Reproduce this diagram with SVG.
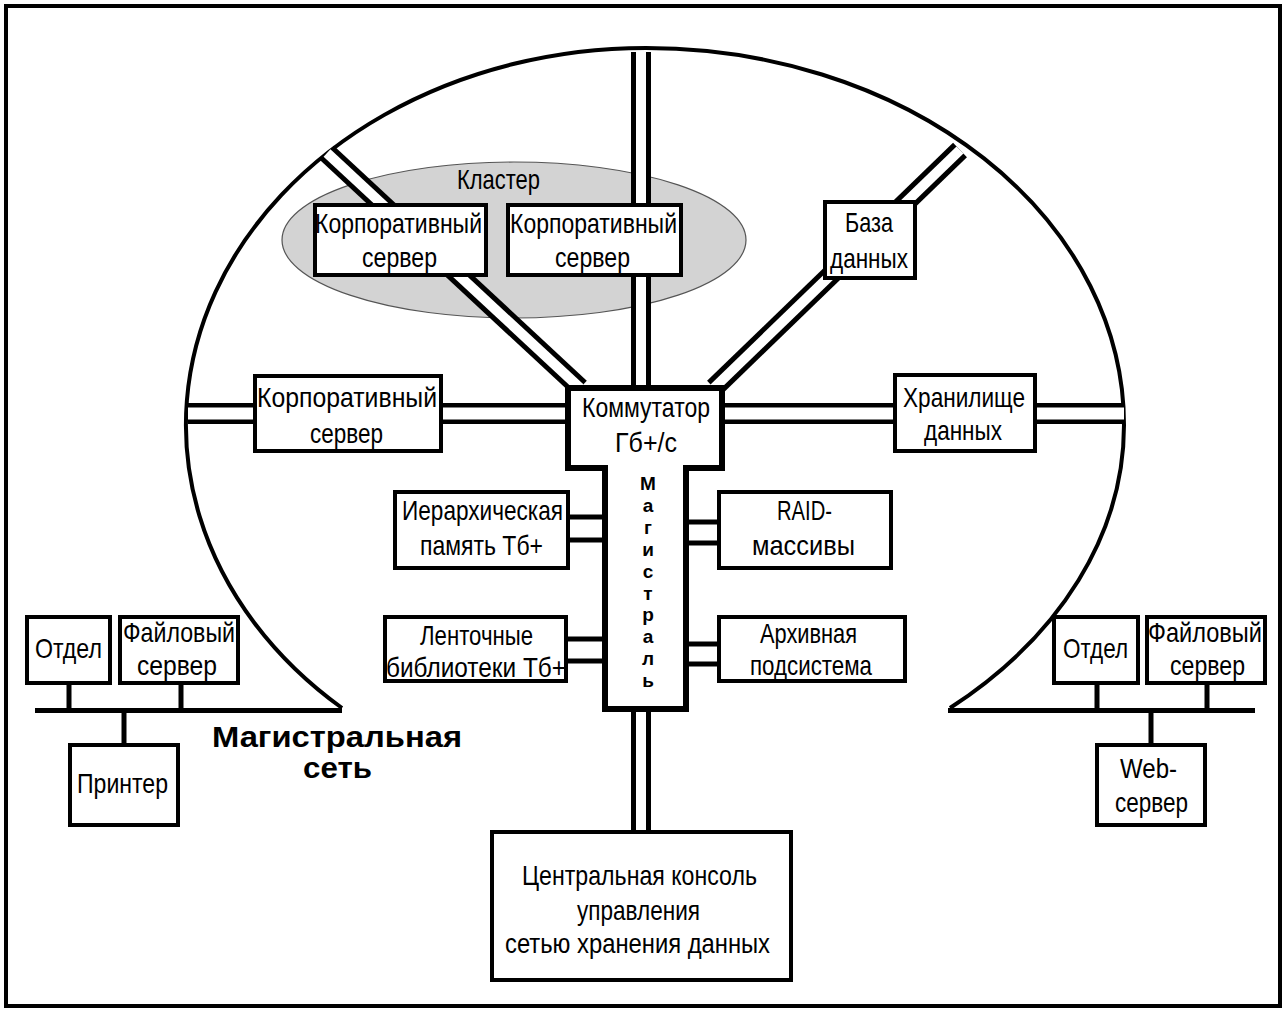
<svg xmlns="http://www.w3.org/2000/svg" width="1286" height="1012" viewBox="0 0 1286 1012">
  <style>
    .frame { fill: #fff; stroke: #000; stroke-width: 4; }
    .arch { fill: none; stroke: #000; stroke-width: 4; }
    .box { fill: #fff; stroke: #000; stroke-width: 4; }
    .switch { fill: #fff; stroke: #000; stroke-width: 6; stroke-linejoin: miter; }
    .cluster { fill: #d3d3d3; stroke: #555; stroke-width: 1.2; }
    .dbl-o { stroke: #000; stroke-width: 20; fill: none; }
    .dbl-i { stroke: #fff; stroke-width: 10; fill: none; }
    .hdbl-o { stroke: #000; stroke-width: 21; fill: none; }
    .hdbl-i { stroke: #fff; stroke-width: 12; fill: none; }
    .stub { stroke: #000; stroke-width: 5; fill: none; }
    .bus { stroke: #000; stroke-width: 5; fill: none; }
    .t { font-family: "Liberation Sans", Arial, sans-serif; font-size: 28px; text-anchor: middle; fill: #000; }
    .b { font-family: "Liberation Sans", Arial, sans-serif; font-weight: bold; text-anchor: middle; fill: #000; }
  </style>

  <!-- outer frame -->
  <rect class="frame" x="6" y="6" width="1274" height="1000"/>

  <!-- backbone network boundary: left half, then right half in two arcs -->
  <path class="arch" d="M342,708 A460,377 0 0 1 646,48 A478,377 0 0 1 1124,425 A514,377 0 0 1 950,708"/>

  <!-- cluster area -->
  <g id="cluster">
    <ellipse class="cluster" cx="514" cy="240" rx="232" ry="78"/>
    <text class="t" x="498.5" y="189" textLength="83" lengthAdjust="spacingAndGlyphs">Кластер</text>
  </g>

  <!-- connectors -->
  <g id="connectors">
    <!-- double links to the switch -->
    <path class="dbl-o" d="M641,52 V386"/>
    <path class="dbl-i" d="M641,52 V386"/>
    <path class="dbl-o" d="M327,153 L580,388"/>
    <path class="dbl-i" d="M327,153 L580,388"/>
    <path class="dbl-o" d="M960,150 L714,388"/>
    <path class="dbl-i" d="M960,150 L714,388"/>
    <path class="hdbl-o" d="M188,413.5 H566"/>
    <path class="hdbl-i" d="M188,413.5 H566"/>
    <path class="hdbl-o" d="M724,413.5 H1124"/>
    <path class="hdbl-i" d="M724,413.5 H1124"/>
    <path class="dbl-o" d="M641,708 V831"/>
    <path class="dbl-i" d="M641,708 V831"/>
    <!-- backbone stubs -->
    <path class="stub" d="M568,517 H603 M568,540 H603"/>
    <path class="stub" d="M566,639 H603 M566,661 H603"/>
    <path class="stub" d="M686,522 H719 M686,543 H719"/>
    <path class="stub" d="M686,644 H719 M686,664 H719"/>
    <!-- left LAN -->
    <path class="bus" d="M35,710.5 H342"/>
    <path class="stub" d="M69,684 V710 M181,684 V710 M124,710 V745"/>
    <!-- right LAN -->
    <path class="bus" d="M948,710.5 H1255"/>
    <path class="stub" d="M1097,684 V710 M1207,684 V710 M1151,710 V745"/>
  </g>

  <!-- switch with backbone stem -->
  <g id="switch">
    <path class="switch" d="M568,388 H722 V468 H686 V709 H605 V468 H568 Z"/>
    <text class="t" x="646" y="417" textLength="128" lengthAdjust="spacingAndGlyphs">Коммутатор</text>
    <text class="t" x="646" y="452" textLength="62" lengthAdjust="spacingAndGlyphs">Гб+/с</text>
    <g class="b" font-size="19">
      <text x="648" y="490">М</text>
      <text x="648" y="512">а</text>
      <text x="648" y="534">г</text>
      <text x="648" y="556">и</text>
      <text x="648" y="578">с</text>
      <text x="648" y="600">т</text>
      <text x="648" y="621">р</text>
      <text x="648" y="643">а</text>
      <text x="648" y="665">л</text>
      <text x="648" y="687">ь</text>
    </g>
  </g>

  <g id="corp-server-1">
    <rect class="box" x="315" y="205" width="171" height="70"/>
    <text class="t" x="398.5" y="233" textLength="167" lengthAdjust="spacingAndGlyphs">Корпоративный</text>
    <text class="t" x="399.5" y="267" textLength="75" lengthAdjust="spacingAndGlyphs">сервер</text>
  </g>
  <g id="corp-server-2">
    <rect class="box" x="508" y="205" width="173" height="70"/>
    <text class="t" x="593.5" y="233" textLength="167" lengthAdjust="spacingAndGlyphs">Корпоративный</text>
    <text class="t" x="592.5" y="267" textLength="75" lengthAdjust="spacingAndGlyphs">сервер</text>
  </g>
  <g id="database">
    <rect class="box" x="825" y="202" width="90" height="76"/>
    <text class="t" x="869" y="232" textLength="48" lengthAdjust="spacingAndGlyphs">База</text>
    <text class="t" x="869" y="268" textLength="78" lengthAdjust="spacingAndGlyphs">данных</text>
  </g>
  <g id="corp-server-3">
    <rect class="box" x="255" y="376" width="186" height="75"/>
    <text class="t" x="347" y="407" textLength="180" lengthAdjust="spacingAndGlyphs">Корпоративный</text>
    <text class="t" x="346.5" y="443" textLength="73" lengthAdjust="spacingAndGlyphs">сервер</text>
  </g>
  <g id="data-storage">
    <rect class="box" x="895" y="375" width="140" height="76"/>
    <text class="t" x="964" y="407" textLength="122" lengthAdjust="spacingAndGlyphs">Хранилище</text>
    <text class="t" x="963" y="440" textLength="78" lengthAdjust="spacingAndGlyphs">данных</text>
  </g>
  <g id="hier-memory">
    <rect class="box" x="395" y="492" width="173" height="76"/>
    <text class="t" x="482.5" y="520" textLength="161" lengthAdjust="spacingAndGlyphs">Иерархическая</text>
    <text class="t" x="481.5" y="555" textLength="123" lengthAdjust="spacingAndGlyphs">память Тб+</text>
  </g>
  <g id="tape-libraries">
    <rect class="box" x="385" y="617" width="181" height="64"/>
    <text class="t" x="476.5" y="645" textLength="113" lengthAdjust="spacingAndGlyphs">Ленточные</text>
    <text class="t" x="476" y="677" textLength="180" lengthAdjust="spacingAndGlyphs">библиотеки Тб+</text>
  </g>
  <g id="raid">
    <rect class="box" x="719" y="492" width="172" height="76"/>
    <text class="t" x="804.5" y="520" textLength="55" lengthAdjust="spacingAndGlyphs">RAID-</text>
    <text class="t" x="803.5" y="555" textLength="103" lengthAdjust="spacingAndGlyphs">массивы</text>
  </g>
  <g id="archive">
    <rect class="box" x="719" y="617" width="186" height="64"/>
    <text class="t" x="808.5" y="643" textLength="97" lengthAdjust="spacingAndGlyphs">Архивная</text>
    <text class="t" x="811" y="675" textLength="122" lengthAdjust="spacingAndGlyphs">подсистема</text>
  </g>
  <g id="console">
    <rect class="box" x="492" y="832" width="299" height="148"/>
    <text class="t" x="639.5" y="885" textLength="235" lengthAdjust="spacingAndGlyphs">Центральная  консоль</text>
    <text class="t" x="638.5" y="920" textLength="123" lengthAdjust="spacingAndGlyphs">управления</text>
    <text class="t" x="637.5" y="953" textLength="265" lengthAdjust="spacingAndGlyphs">сетью  хранения  данных</text>
  </g>

  <!-- left department LAN -->
  <g id="dept-left">
    <rect class="box" x="27" y="617" width="83" height="66"/>
    <text class="t" x="68.5" y="658" textLength="67" lengthAdjust="spacingAndGlyphs">Отдел</text>
  </g>
  <g id="fileserver-left">
    <rect class="box" x="120" y="617" width="118" height="66"/>
    <text class="t" x="179" y="642" textLength="112" lengthAdjust="spacingAndGlyphs">Файловый</text>
    <text class="t" x="177" y="675" textLength="80" lengthAdjust="spacingAndGlyphs">сервер</text>
  </g>
  <g id="printer">
    <rect class="box" x="70" y="745" width="108" height="80"/>
    <text class="t" x="122.5" y="793" textLength="91" lengthAdjust="spacingAndGlyphs">Принтер</text>
  </g>

  <!-- right department LAN -->
  <g id="dept-right">
    <rect class="box" x="1054" y="617" width="84" height="66"/>
    <text class="t" x="1095.5" y="658" textLength="65" lengthAdjust="spacingAndGlyphs">Отдел</text>
  </g>
  <g id="fileserver-right">
    <rect class="box" x="1147" y="617" width="118" height="66"/>
    <text class="t" x="1205" y="642" textLength="114" lengthAdjust="spacingAndGlyphs">Файловый</text>
    <text class="t" x="1207.5" y="675" textLength="75" lengthAdjust="spacingAndGlyphs">сервер</text>
  </g>
  <g id="web-server">
    <rect class="box" x="1097" y="745" width="108" height="80"/>
    <text class="t" x="1148.5" y="778" textLength="57" lengthAdjust="spacingAndGlyphs">Web-</text>
    <text class="t" x="1151.5" y="812" textLength="73" lengthAdjust="spacingAndGlyphs">сервер</text>
  </g>

  <!-- backbone network caption -->
  <g id="backbone-label" class="b" font-size="30">
    <text x="337" y="747" textLength="250" lengthAdjust="spacingAndGlyphs">Магистральная</text>
    <text x="337.5" y="778" textLength="69" lengthAdjust="spacingAndGlyphs">сеть</text>
  </g>
</svg>
